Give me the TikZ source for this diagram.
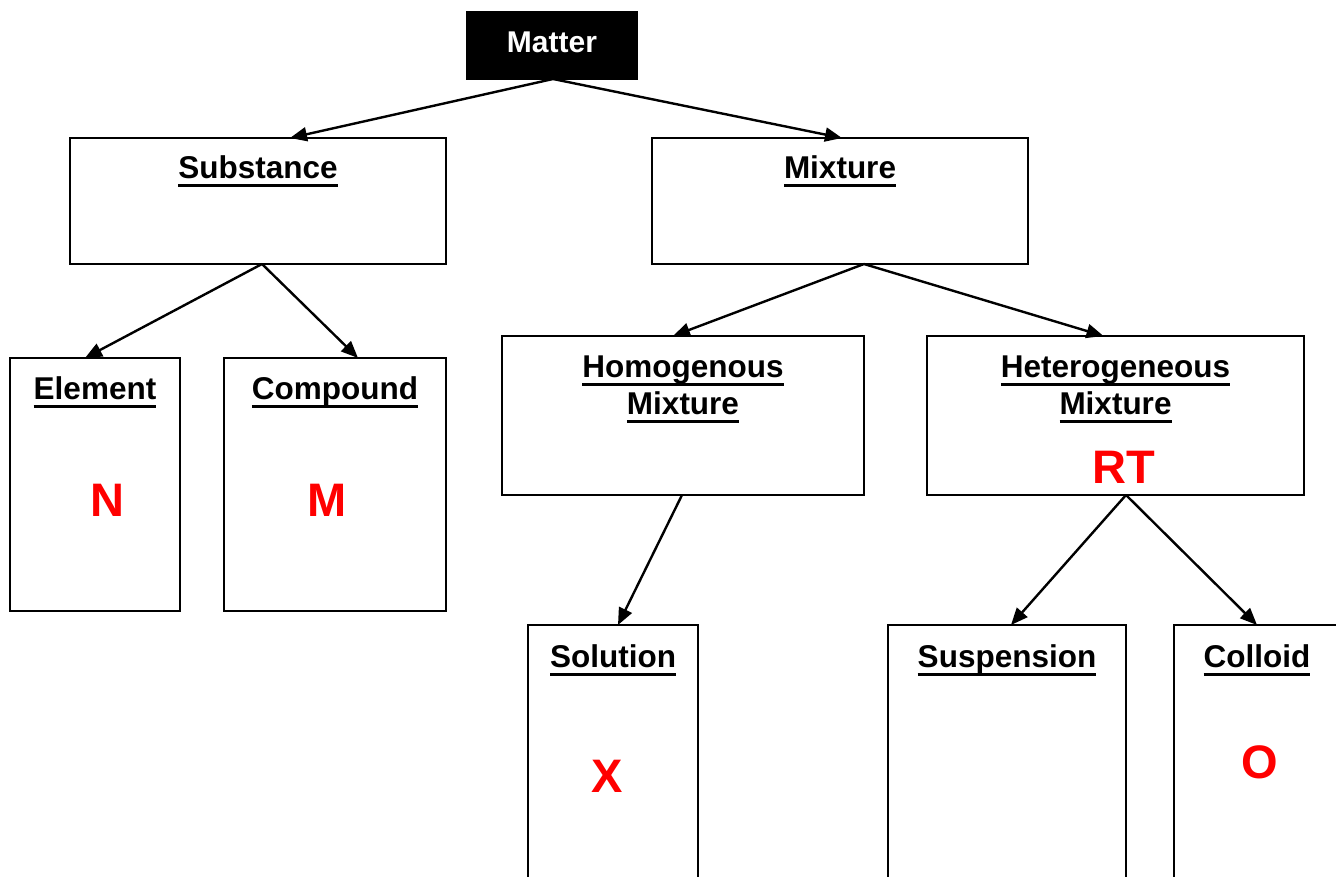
\documentclass[tikz,border=0pt]{standalone}
\usepackage{fontspec}
\setmainfont{Liberation Sans}
\usetikzlibrary{arrows.meta,calc}
\newcommand\ulx[1]{\setbox0\hbox{#1}\rlap{\rule[-8.5pt]{\wd0}{3pt}}\box0}
\begin{document}
\begin{tikzpicture}[x=1pt,y=-1pt,
  box/.style={draw, line width=2.4pt, inner sep=0pt, outer sep=0pt},
  ttl/.style={font=\fontsize{31.5}{37}\selectfont\bfseries, anchor=base, align=center, inner sep=0pt},
  redl/.style={font=\fontsize{47}{47}\selectfont\bfseries, text=red, anchor=base, inner sep=0pt},
  arr/.style={-{Triangle[length=17pt,width=14pt]}, line width=2.4pt}]
\useasboundingbox (0,0) rectangle (1336,877);
\clip (0,0) rectangle (1336,877);
% boxes
\node[box, fill=black, minimum width=170, minimum height=67] (matter) at (552,45.5) {};
\node[box, minimum width=376, minimum height=126] (sub) at (258,201) {};
\node[box, minimum width=376, minimum height=126] (mix) at (840,201) {};
\node[box, minimum width=170, minimum height=253] (el) at (95,484.5) {};
\node[box, minimum width=222, minimum height=253] (comp) at (335,484.5) {};
\node[box, minimum width=362, minimum height=159] (hom) at (683,415.5) {};
\node[box, minimum width=377, minimum height=159] (het) at (1115.5,415.5) {};
\node[box, minimum width=170, minimum height=275] (sol) at (613,762.5) {};
\node[box, minimum width=238, minimum height=275] (sus) at (1007,762.5) {};
\node[box, minimum width=166, minimum height=275] (col) at (1257,762.5) {};
% titles
\node[ttl, font=\fontsize{30}{36}\selectfont\bfseries, text=white] (tmatter) at ($(matter.north)+(0,41)$) {Matter};
\node[ttl] (tsub) at ($(sub.north)+(0,41)$) {\ulx{Substance}};
\node[ttl] (tmix) at ($(mix.north)+(0,41)$) {\ulx{Mixture}};
\node[ttl] (tel) at ($(el.north)+(0,41)$) {\ulx{Element}};
\node[ttl] (tcomp) at ($(comp.north)+(0,41)$) {\ulx{Compound}};
\node[ttl] (thom) at ($(hom.north)+(0,78)$) {\ulx{Homogenous}\\\ulx{Mixture}};
\node[ttl] (thet) at ($(het.north)+(0,78)$) {\ulx{Heterogeneous}\\\ulx{Mixture}};
\node[ttl] (tsol) at ($(sol.north)+(0,42)$) {\ulx{Solution}};
\node[ttl] (tsus) at ($(sus.north)+(0,42)$) {\ulx{Suspension}};
\node[ttl] (tcol) at ($(col.north)+(0,42)$) {\ulx{Colloid}};
% red labels
\node[redl] (rn) at ($(el.north)+(12,158)$) {N};
\node[redl] (rm) at ($(comp.north)+(-8,158)$) {M};
\node[redl] (rrt) at ($(het.north)+(8.5,147)$) {RT};
\node[redl] (rx) at ($(sol.north)+(-6,167)$) {X};
\node[redl] (ro) at ($(col.north)+(3,153)$) {O};
% arrows
\draw[arr] ($(matter.south)+(1,0)$) -- ($(sub.north)+(32,0)$);
\draw[arr] ($(matter.south)+(1,0)$) -- ($(mix.north)+(2,0)$);
\draw[arr] ($(sub.south)+(4,0)$) -- ($(el.north)+(-10,0)$);
\draw[arr] ($(sub.south)+(4,0)$) -- ($(comp.north)+(23,0)$);
\draw[arr] ($(mix.south)+(24,0)$) -- ($(hom.north)+(-10,0)$);
\draw[arr] ($(mix.south)+(24,0)$) -- ($(het.north)+(-12,0)$);
\draw[arr] ($(hom.south)+(-1,0)$) -- ($(sol.north)+(5,0)$);
\draw[arr] ($(het.south)+(10.5,0)$) -- ($(sus.north)+(4,0)$);
\draw[arr] ($(het.south)+(10.5,0)$) -- ($(col.north)+(0,0)$);
\end{tikzpicture}
\end{document}
